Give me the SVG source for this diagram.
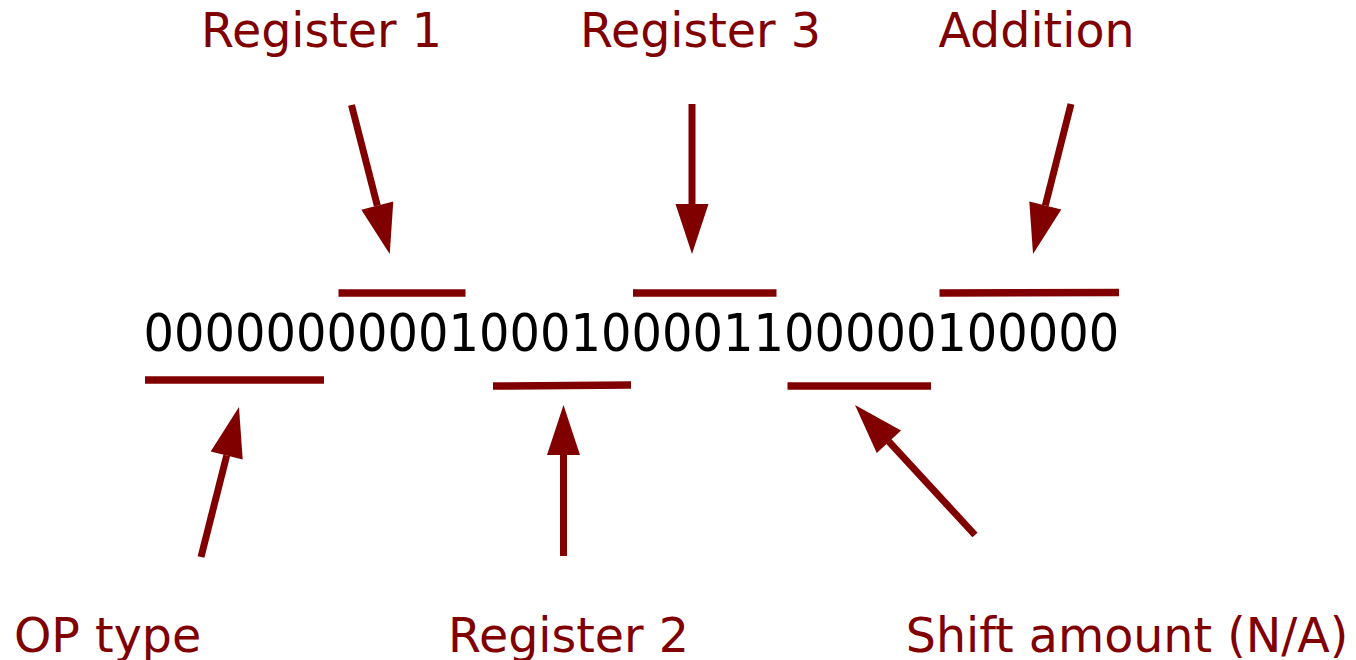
<svg xmlns="http://www.w3.org/2000/svg" width="1356" height="660" viewBox="0 0 1356 660">
  <style>
    .label { font-family: "DejaVu Sans", "Liberation Sans", sans-serif; font-size: 47.5px; fill: #800000; text-anchor: middle; }
    .bits { font-family: "DejaVu Sans", "Liberation Sans", sans-serif; font-size: 51px; fill: #000000; }
    .bar { stroke: #800000; stroke-width: 7.5; fill: none; }
    .arrow { stroke: #800000; stroke-width: 7; fill: none; marker-end: url(#head); }
  </style>
  <defs>
    <marker id="head" markerUnits="userSpaceOnUse" viewBox="0 -16.5 50 33" refX="0" refY="0" markerWidth="50" markerHeight="33" orient="auto" overflow="visible">
      <path d="M0,-16.5 L50,0 L0,16.5 Z" fill="#800000"/>
    </marker>
  </defs>
  <rect width="1356" height="660" fill="#ffffff"/>

  <!-- instruction word -->
  <g id="word">
    <text class="bits" transform="translate(143.5,351) scale(0.94,1)">00000000001000100001100000100000</text>
  </g>

  <!-- field markers -->
  <g id="field-register1"><line class="bar" x1="338.5" y1="293" x2="465.5" y2="293"/></g>
  <g id="field-register3"><line class="bar" x1="633" y1="293" x2="776.5" y2="293"/></g>
  <g id="field-addition"><line class="bar" x1="939.5" y1="293" x2="1119" y2="292.5"/></g>
  <g id="field-optype"><line class="bar" x1="145" y1="380" x2="324" y2="380"/></g>
  <g id="field-register2"><line class="bar" x1="493" y1="386" x2="631" y2="385"/></g>
  <g id="field-shift"><line class="bar" x1="787.5" y1="386" x2="931" y2="386"/></g>

  <!-- labels -->
  <g id="label-register1"><text class="label" x="321.5" y="47">Register 1</text></g>
  <g id="label-register3"><text class="label" x="700.5" y="47">Register 3</text></g>
  <g id="label-addition"><text class="label" x="1036.5" y="47">Addition</text></g>
  <g id="label-optype"><text class="label" x="107.5" y="652">OP type</text></g>
  <g id="label-register2"><text class="label" x="568.5" y="652">Register 2</text></g>
  <g id="label-shift"><text class="label" x="1127" y="652">Shift amount (N/A)</text></g>

  <!-- connectors -->
  <g id="connectors">
    <line class="arrow" x1="351.5" y1="105" x2="377.3" y2="205.6"/>
    <line class="arrow" x1="692" y1="104" x2="692" y2="204"/>
    <line class="arrow" x1="1071" y1="104" x2="1045.3" y2="205.5"/>
    <line class="arrow" x1="201" y1="557" x2="226.7" y2="455.5"/>
    <line class="arrow" x1="563.5" y1="556" x2="563.5" y2="455"/>
    <line class="arrow" x1="975" y1="535" x2="888.9" y2="441.7"/>
  </g>
</svg>
